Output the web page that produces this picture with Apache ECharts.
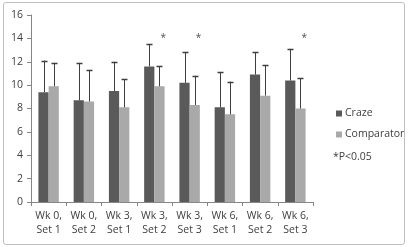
<!DOCTYPE html>
<html>
<head>
<meta charset="utf-8">
<script src="https://cdn.jsdelivr.net/npm/echarts@6/dist/echarts.min.js"></script>
<style>
  html, body { margin: 0; padding: 0; background: #fff; }
  #frame { position: absolute; left: 3px; top: 2px; width: 400px; height: 241px; border: 1px solid #bfbfbf; border-radius: 3px; }
  #chart { position: absolute; left: 0; top: 0; width: 409px; height: 247px; }
</style>
</head>
<body>
<div id="frame"></div>
<div id="chart"></div>
<script>
const categories = ['Wk 0,\nSet 1', 'Wk 0,\nSet 2', 'Wk 3,\nSet 1', 'Wk 3,\nSet 2', 'Wk 3,\nSet 3', 'Wk 6,\nSet 1', 'Wk 6,\nSet 2', 'Wk 6,\nSet 3']
const crazeValues = [9.4, 8.7, 9.5, 11.6, 10.2, 8.1, 10.9, 10.4]
const crazeErrTop = [12.1, 11.9, 12.0, 13.5, 12.8, 11.1, 12.8, 13.1]
const compValues = [9.9, 8.6, 8.1, 9.9, 8.3, 7.5, 9.1, 8.0]
const compErrTop = [11.9, 11.3, 10.5, 11.6, 10.8, 10.3, 11.7, 10.6]
const sigFlags = [0, 0, 0, 1, 1, 0, 0, 1]
const sigLevel = 14.2
const yTicks = { min: 0, max: 16, interval: 2 }

const gapRatio = 0.42 // barCategoryGap
const chart = echarts.init(document.getElementById('chart'))

// error bar drawn on top of each bar, shift = -1 for left bar, +1 for right
function errorBar(values, tops, shift) {
  return {
    type: 'custom',
    z: 5,
    silent: true,
    data: values.map((v, i) => [i, v, tops[i]]),
    renderItem: function (params, api) {
      const base = api.coord([api.value(0), api.value(1)])
      const top = api.coord([api.value(0), api.value(2)])
      const band = api.size([1, 0])[0]
      const bw = band * (1 - gapRatio) / 2
      const x = Math.round(base[0] + shift * bw / 2) + 0.5
      const style = { stroke: '#3f3f3f', lineWidth: 1 }
      return {
        type: 'group',
        children: [
          { type: 'line', shape: { x1: x, y1: base[1], x2: x, y2: top[1] }, style: style },
          { type: 'line', shape: { x1: x - 3, y1: Math.round(top[1]) + 0.5, x2: x + 3, y2: Math.round(top[1]) + 0.5 }, style: { stroke: '#3f3f3f', lineWidth: 1.5 } },
        ],
      }
    },
  }
}

const option = {
  animation: false,
  textStyle: { fontFamily: 'Open Sans', color: '#404040' },
  grid: { left: 31, right: 96, top: 15, bottom: 45, containLabel: false },
  legend: {
    orient: 'vertical',
    left: 331,
    top: 103,
    itemWidth: 6,
    itemHeight: 6,
    itemGap: 10,
    icon: 'rect',
    textStyle: { fontSize: 10.5, color: '#404040', padding: [0, 0, 0, -2] },
    data: ['Craze', 'Comparator'],
  },
  graphic: [{
    type: 'text',
    left: 333,
    top: 152,
    style: { text: '*P<0.05', fontSize: 10.5, fill: '#404040', fontFamily: 'Open Sans' },
  }],
  xAxis: {
    type: 'category',
    data: categories,
    axisLine: { lineStyle: { color: '#868686' } },
    axisTick: { show: true, length: 4, lineStyle: { color: '#868686' } },
    axisLabel: { interval: 0, fontSize: 10.5, color: '#404040', lineHeight: 14, margin: 7 },
  },
  yAxis: {
    type: 'value',
    min: yTicks.min,
    max: yTicks.max,
    interval: yTicks.interval,
    axisLine: { show: true, lineStyle: { color: '#868686' } },
    axisTick: { show: true, length: 4, lineStyle: { color: '#868686' } },
    splitLine: { show: false },
    axisLabel: { fontSize: 10.5, color: '#404040', margin: 8 },
  },
  series: [
    {
      name: 'Craze',
      type: 'bar',
      data: crazeValues,
      barGap: 0,
      barCategoryGap: (gapRatio * 100) + '%',
      itemStyle: { color: '#5a5a5a' },
    },
    {
      name: 'Comparator',
      type: 'bar',
      data: compValues,
      itemStyle: { color: '#a9a9a9' },
    },
    errorBar(crazeValues, crazeErrTop, -1),
    errorBar(compValues, compErrTop, 1),
    {
      type: 'scatter',
      symbolSize: 0,
      silent: true,
      data: sigFlags.map((f, i) => f ? [i, sigLevel] : null).filter(d => d),
      label: {
        show: true,
        formatter: '*',
        position: 'inside',
        offset: [9, 2],
        fontSize: 10,
        color: '#222',
      },
    },
  ],
}
chart.setOption(option)
</script>
</body>
</html>
